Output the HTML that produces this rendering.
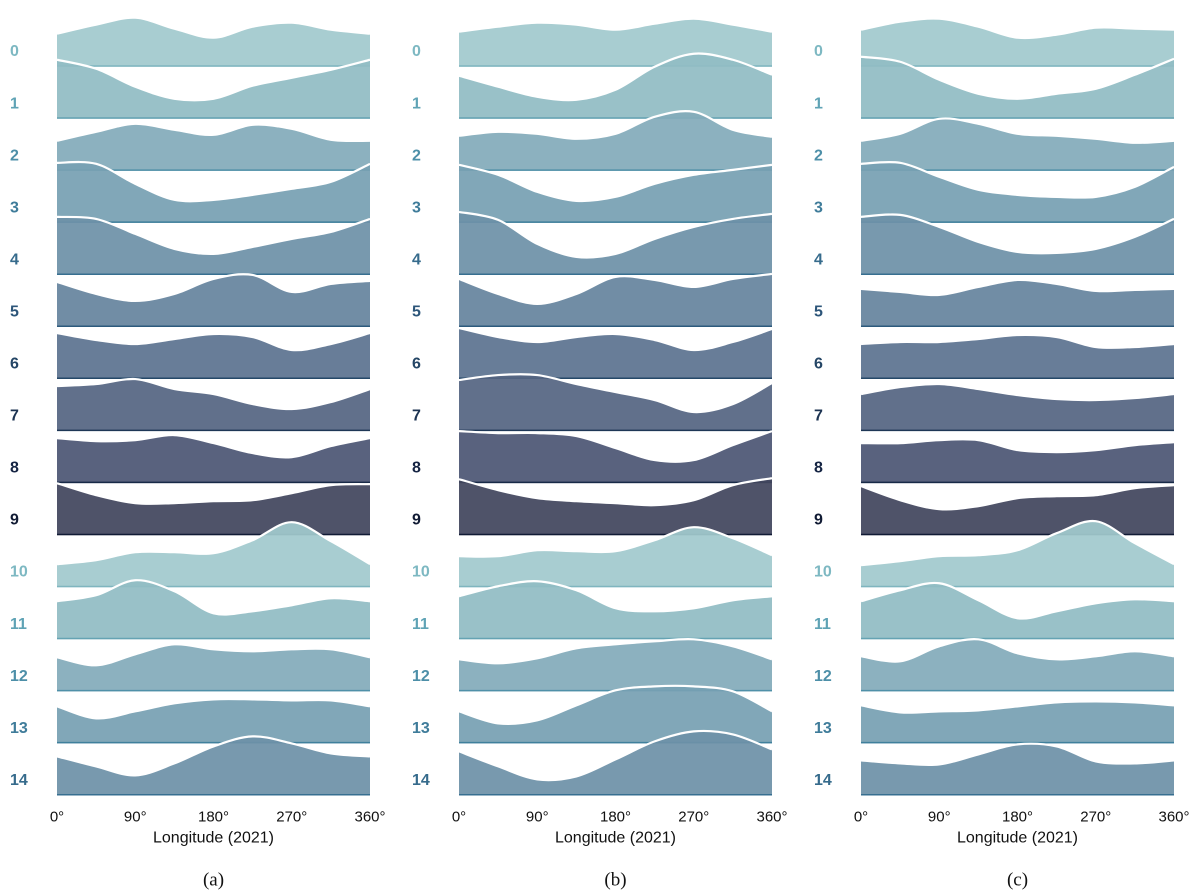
<!DOCTYPE html>
<html><head><meta charset="utf-8"><style>
html,body{margin:0;padding:0;background:#fff;}
svg{display:block;}
</style></head><body>
<svg id="chart" width="1200" height="892" viewBox="0 0 1200 892" xmlns="http://www.w3.org/2000/svg"></svg>
<script>
const angles = [0,45,90,135,180,225,270,315,360];
const rowLabels = ["0","1","2","3","4","5","6","7","8","9","10","11","12","13","14"];
const xTickValues = [0,90,180,270,360];
const xTickLabels = ["0°","90°","180°","270°","360°"];
const panelTags = ["(a)","(b)","(c)"];
const axisTitle = "Longitude (2021)";
const panelA = [
[33,42,49,38,29,40,44,37,33],
[59,50,32,20,20,33,41,49,59],
[30,39,47,41,36,46,42,31,30],
[60,59,39,23,23,28,34,41,59],
[58,56,41,26,21,28,36,43,56],
[45,33,26,33,48,52,35,43,46],
[46,39,35,40,45,42,29,35,46],
[45,47,52,42,37,27,22,29,42],
[45,42,43,48,40,30,26,37,45],
[52,40,32,32,34,35,42,50,51],
[23,27,35,35,34,47,65,46,23],
[38,44,59,48,26,28,34,41,38],
[34,26,37,47,42,40,42,42,34],
[37,25,32,40,44,44,43,43,37],
[39,29,20,32,49,59,52,42,39]];
const panelB = [
[35,40,44,42,37,43,48,42,35],
[43,32,22,19,29,52,65,59,44],
[35,39,37,32,37,54,59,41,34],
[58,48,31,22,26,39,48,53,58],
[63,55,31,18,21,36,48,56,61],
[48,33,23,33,50,47,40,48,53],
[51,42,37,42,45,39,29,37,50],
[51,56,56,47,39,31,19,27,48],
[52,50,50,47,35,23,23,38,52],
[56,45,37,34,32,30,35,50,57],
[31,31,37,36,36,47,60,49,32],
[43,53,58,49,31,28,31,39,43],
[32,28,33,43,47,50,52,45,32],
[32,20,23,38,53,57,57,52,32],
[44,29,16,19,36,54,64,61,46]];
const panelC = [
[37,45,48,40,29,32,39,38,37],
[62,57,39,25,20,25,30,44,60],
[30,37,52,47,37,35,32,28,30],
[59,60,46,33,28,26,26,36,56],
[58,60,48,33,23,22,26,38,56],
[38,35,32,40,47,43,36,37,38],
[35,37,37,40,44,42,32,32,35],
[37,44,47,42,36,32,31,33,37],
[40,40,43,43,33,31,33,38,41],
[49,35,26,29,37,39,40,47,50],
[22,26,31,32,37,54,66,44,23],
[38,49,56,39,21,28,36,40,38],
[35,30,45,52,38,32,35,40,35],
[38,31,32,33,37,41,42,41,38],
[35,32,31,41,51,49,34,32,35]];
const panels = [panelA, panelB, panelC];
const panelX0 = [57, 459, 861];
const panelW = 313;
const fills = ["#a1c9ce","#91bcc4","#83abba","#77a0b3","#6e91a8","#66849e","#5d7390","#556582","#4c5674","#42465e",
               "#a1c9ce","#91bcc4","#83abba","#77a0b3","#6e91a8"];
const edges = ["#7fb5bf","#65a3b3","#4f90a8","#40809c","#376f90","#2d5a7d","#254868","#1e3756","#182a47","#111b35",
               "#7fb5bf","#65a3b3","#4f90a8","#40809c","#376f90"];
const labelColors = ["#7db8c2","#5fa3b5","#4d8fa8","#3f7c9a","#366b8c","#2c5579","#244565","#1c3352","#152443","#101a33",
                     "#7db8c2","#5fa3b5","#4d8fa8","#3f7c9a","#366b8c"];
const NS = "http://www.w3.org/2000/svg";
const svg = document.getElementById("chart");
function baseY(i){ return 66.7 + 52.05*i; }
function xScale(p, deg){ return panelX0[p] + deg/360*panelW; }
function yScale(i, v){ return baseY(i) - v; }
function mk(tag, attrs){ const e=document.createElementNS(NS,tag); for(const k in attrs) e.setAttribute(k,attrs[k]); return e; }
function curvePath(pts){
  let d = "M"+pts[0][0].toFixed(2)+","+pts[0][1].toFixed(2);
  for(let k=0;k<pts.length-1;k++){
    const p0=pts[Math.max(0,k-1)], p1=pts[k], p2=pts[k+1], p3=pts[Math.min(pts.length-1,k+2)];
    const c1=[p1[0]+(p2[0]-p0[0])/6, p1[1]+(p2[1]-p0[1])/6];
    const c2=[p2[0]-(p3[0]-p1[0])/6, p2[1]-(p3[1]-p1[1])/6];
    d += " C"+c1[0].toFixed(2)+","+c1[1].toFixed(2)+" "+c2[0].toFixed(2)+","+c2[1].toFixed(2)+" "+p2[0].toFixed(2)+","+p2[1].toFixed(2);
  }
  return d;
}
panels.forEach((data,p)=>{
  const g = mk("g",{});
  
  
  svg.appendChild(g);
  data.forEach((vals,i)=>{
    const pts = vals.map((v,j)=>[xScale(p,angles[j]), yScale(i,v)]);
    const top = curvePath(pts);
    const by = baseY(i);
    const rg = mk("g",{});
    
    
    g.appendChild(rg);
    const area = mk("path",{d: top+" L"+xScale(p,360)+","+by+" L"+xScale(p,0)+","+by+" Z", fill: fills[i], "fill-opacity":"0.93"});
    
    
    rg.appendChild(area);
    const base = mk("line",{x1:xScale(p,0),x2:xScale(p,360),y1:by-0.7,y2:by-0.7,stroke:edges[i],"stroke-width":"1.5"});
    
    
    rg.appendChild(base);
    const line = mk("path",{d: top, fill:"none", stroke:"#ffffff","stroke-width":"2.2"});
    
    
    rg.appendChild(line);
    const lab = mk("text",{x: panelX0[p]-47, y: by-15, "font-family":"Liberation Sans, sans-serif","font-size":"16","font-weight":"bold",fill:labelColors[i],"dominant-baseline":"central"});
    lab.textContent = rowLabels[i];
    
    
    g.appendChild(lab);
  });
  xTickValues.forEach((t,k)=>{
    const tx = mk("text",{x: xScale(p,t), y: 817, "text-anchor":"middle","dominant-baseline":"central","font-family":"Liberation Sans, sans-serif","font-size":"15",fill:"#111"});
    tx.textContent = xTickLabels[k];
    
    
    g.appendChild(tx);
  });
  const title = mk("text",{x: xScale(p,180), y: 838, "text-anchor":"middle","dominant-baseline":"central","font-family":"Liberation Sans, sans-serif","font-size":"16",fill:"#111"});
  title.textContent = axisTitle;
  
  
  g.appendChild(title);
  const tag = mk("text",{x: xScale(p,180), y: 880, "text-anchor":"middle","dominant-baseline":"central","font-family":"Liberation Serif, serif","font-size":"19",fill:"#111"});
  tag.textContent = panelTags[p];
  
  
  g.appendChild(tag);
});
</script>
</body></html>
